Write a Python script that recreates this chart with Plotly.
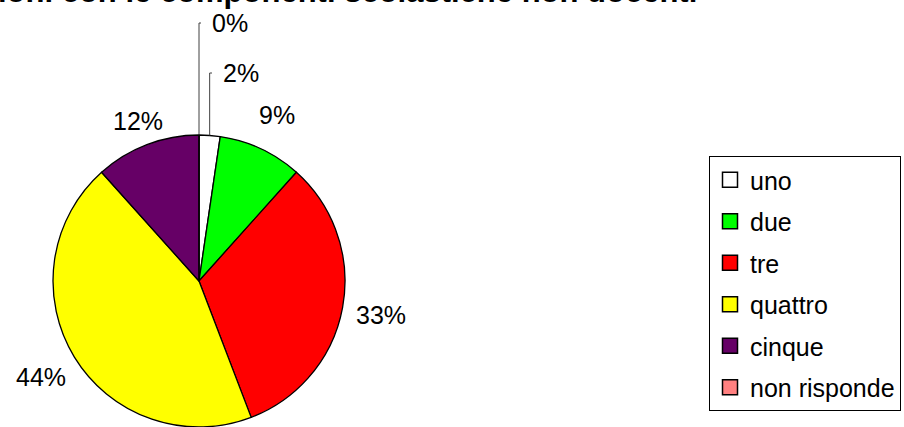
import math
import plotly.graph_objects as go

# ---- data ----
categories = ["uno", "due", "tre", "quattro", "cinque", "non risponde"]
counts = [1, 4, 14, 19, 5, 0]
colors = ["#FFFFFF", "#00FF00", "#FF0000", "#FFFF00", "#660066", "#FF8080"]
title_text = "Relazioni con le componenti scolastiche non docenti"

# ---- geometry / style (pixels) ----
W, H = 904, 427
CX, CY, R = 199, 281, 146
FONT = "Liberation Sans, Arial, sans-serif"
LABEL_SIZE = 25
label_gap = {"due": 17, "tre": 12, "quattro": 10, "cinque": 3}
leader_labels = {"uno": (221, 73), "non risponde": (210, 23)}

total = sum(counts)
pcts = [round(v / total * 100) for v in counts]

def px2paper(x, y):
    return x / W, 1 - y / H

fig = go.Figure()
fig.add_trace(go.Pie(
    labels=categories, values=counts, sort=False, direction="clockwise",
    rotation=0, textinfo="none", hoverinfo="label+percent",
    marker=dict(colors=colors, line=dict(color="black", width=1.3)),
    domain=dict(x=[(CX - R) / W, (CX + R) / W], y=[1 - (CY + R) / H, 1 - (CY - R) / H]),
    showlegend=False,
))

# legend entries (one per category)
for cat, col in zip(categories, colors):
    fig.add_trace(go.Scatter(
        x=[None], y=[None], mode="markers", name=cat, legendgroup=cat,
        marker=dict(symbol="square", size=15, color=col, line=dict(color="black", width=1.5)),
        showlegend=True,
    ))

annotations = []
shapes = []
cum = 0.0
for cat, v, p in zip(categories, counts, pcts):
    a0 = cum / total * 2 * math.pi
    cum += v
    a1 = cum / total * 2 * math.pi
    mid = (a0 + a1) / 2
    s, c = math.sin(mid), -math.cos(mid)
    txt = f"{p}%"
    if cat in leader_labels:
        lx, ly = leader_labels[cat]
        ex, ey = CX + R * s, CY + R * c
        x0, y0 = px2paper(ex, ey)
        _, y1 = px2paper(ex, ly)
        x2, _ = px2paper(lx - 9, ly)
        shapes.append(dict(type="path", xref="paper", yref="paper",
                           path=f"M {x0},{y0} L {x0},{y1} L {x2},{y1}",
                           line=dict(color="#404040", width=1)))
        ax, ay = px2paper(lx, ly)
        annotations.append(dict(x=ax, y=ay, xref="paper", yref="paper", text=txt,
                                showarrow=False, xanchor="left", yanchor="middle",
                                font=dict(family=FONT, size=LABEL_SIZE, color="black")))
    else:
        w = (len(txt) - 1) * 0.556 * LABEL_SIZE + 0.889 * LABEL_SIZE
        h = 0.57 * LABEL_SIZE * 2
        ext = abs(s) * w / 2 + abs(c) * h / 2
        d = R + label_gap.get(cat, 11) + ext
        ax, ay = px2paper(CX + d * s, CY + d * c)
        annotations.append(dict(x=ax, y=ay, xref="paper", yref="paper", text=txt,
                                showarrow=False, xanchor="center", yanchor="middle",
                                font=dict(family=FONT, size=LABEL_SIZE, color="black")))

# title (partially cut off at top/left as in the reference)
annotations.append(dict(x=699 / W, y=1 + 8 / H, xref="paper", yref="paper",
                        text=f"<b>{title_text}</b>", showarrow=False,
                        xanchor="right", yanchor="middle",
                        font=dict(family=FONT, size=31, color="black")))

fig.update_layout(
    width=W, height=H, margin=dict(l=0, r=0, t=0, b=0),
    paper_bgcolor="white", plot_bgcolor="white",
    xaxis=dict(visible=False), yaxis=dict(visible=False),
    showlegend=True,
    legend=dict(x=709 / W, y=1 - 156 / H, xanchor="left", yanchor="top",
                bordercolor="black", borderwidth=1, bgcolor="white",
                font=dict(family=FONT, size=LABEL_SIZE, color="black"),
                tracegroupgap=6, itemsizing="trace"),
    annotations=annotations, shapes=shapes,
)

fig.write_html("out.html", config={"displayModeBar": False},
               post_script="document.body.style.margin='0px';")
